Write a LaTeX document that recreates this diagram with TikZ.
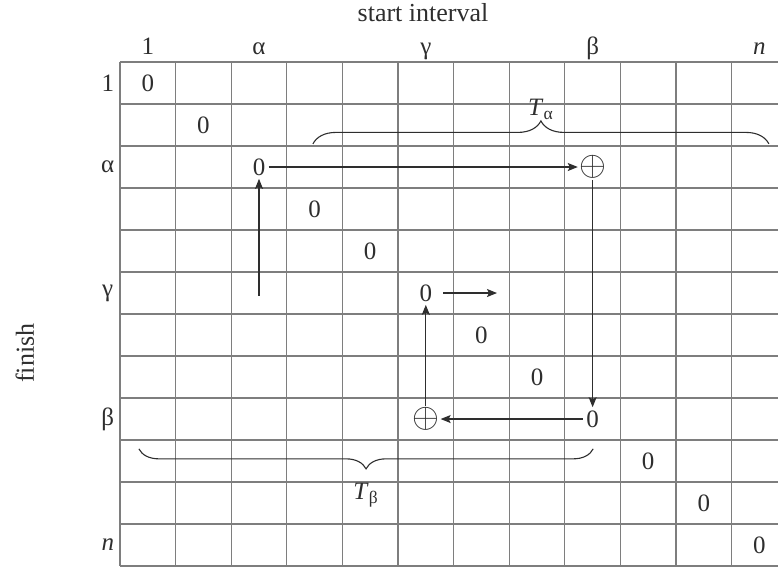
\documentclass[tikz,border=0pt]{standalone}
\usepackage{fontspec}
\setmainfont{Liberation Serif}
\usetikzlibrary{arrows.meta,decorations.pathreplacing}
\definecolor{GridGray}{HTML}{7E7E7E}
\definecolor{InkDark}{HTML}{2E2E2E}

\begin{document}
\begin{tikzpicture}[
    x=27.8pt, y=-21pt,
    font=\fontsize{12.5}{15}\selectfont, color=InkDark,
    gridline/.style={draw=GridGray, line width=0.65pt},
    cell/.style={inner sep=1.5pt},
    plus/.style={inner sep=0.5pt, font=\fontsize{19}{22}\selectfont},
    idx/.style={inner sep=1pt},
    arrow/.style={-{Stealth[length=5pt, width=4pt, inset=1pt]}, line width=0.55pt},
    brace/.style={decorate, line width=0.55pt}
  ]
    \useasboundingbox (-2.158,-1.476) rectangle (11.834,12.02);
    % grid
    \foreach \r in {0,...,12}
      \draw[gridline] (0,\r) -- (11.834,\r);
    \foreach \c in {0,...,11}
      \draw[gridline] (\c,0) -- (\c,12);
    % headings
    \node[font=\fontsize{13}{16}\selectfont] (title) at (5.45,-1.17) {start interval};
    \node[rotate=90, font=\fontsize{13}{16}\selectfont] (finish) at (-1.71,6.93) {finish};
    \foreach \c/\t in {1/1, 3/α, 6/γ, 9/β, 12/\textit{n}}
      \node[idx, anchor=base] (col\c) at (\c-0.5,-0.19) {\t};
    \foreach \r/\t in {1/1, 3/α, 6/γ, 9/β, 12/\textit{n}}
      \node[idx] (row\r) at (-0.22,\r-0.5) {\t};
    % diagonal
    \foreach \i in {1,...,12}
      \node[cell] (z\i) at (\i-0.5,\i-0.5) {0};
    \node[plus] (pa) at (8.5,2.5) {$\oplus$};
    \node[plus] (pb) at (5.5,8.5) {$\oplus$};
    \coordinate (g6) at (6.78,5.5);
    \coordinate (a6) at (2.5,5.57);
    % arrows
    \draw[arrow] (z3) -- (pa);
    \draw[arrow] (pa) -- (z9);
    \draw[arrow] (z9) -- (pb);
    \draw[arrow] (pb) -- (z6);
    \draw[arrow] ([xshift=4pt]z6.east) -- (g6);
    \draw[arrow] (a6) -- (z3);
    % braces
    \coordinate (ta1) at (3.47,1.95);
    \coordinate (ta2) at (11.67,1.95);
    \coordinate (tb1) at (0.34,9.21);
    \coordinate (tb2) at (8.51,9.21);
    \draw[brace, decoration={brace, amplitude=11.5pt}] (ta1) -- node[above=11pt, idx] (talpha) {\textit{T}\textsubscript{α}} (ta2);
    \draw[brace, decoration={brace, mirror, amplitude=10pt}] (tb1) -- node[below=16pt, idx] (tbeta) {\textit{T}\textsubscript{β}} (tb2);
\end{tikzpicture}
\end{document}
